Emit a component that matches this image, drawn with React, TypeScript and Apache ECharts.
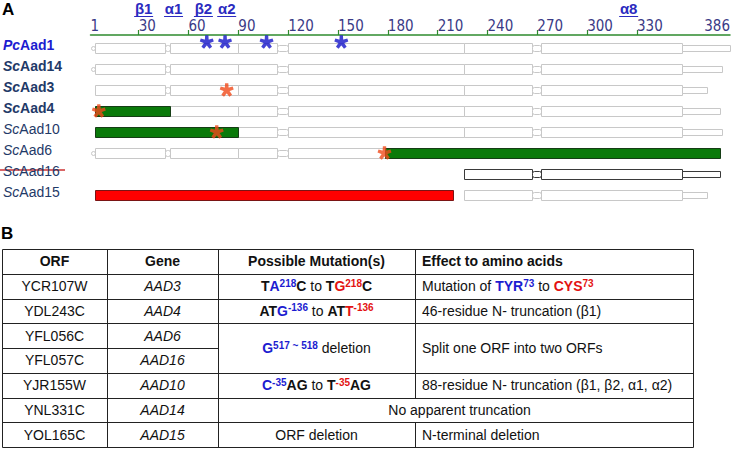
import React, { useEffect, useRef } from 'react';
import * as echarts from 'echarts';

// ---------- Panel A data ----------
const rows = ['PcAad1', 'ScAad14', 'ScAad3', 'ScAad4', 'ScAad10', 'ScAad6', 'ScAad16', 'ScAad15'];
const tickLabels = [1, 30, 60, 90, 120, 150, 180, 210, 240, 270, 300, 330, 386];
const tickMarks = [30, 60, 90, 120, 150, 180, 210, 240, 270, 300, 330];
const ssLabels = ['β1', 'α1', 'β2', 'α2', 'α8'];
const ssPositions = [33, 51, 69, 83, 325];

// shared domain architecture [start, end, part]
const domainLayout: [number, number, string][] = [
  [1, 4, 'linker'], [4, 46, 'domain'], [46, 49, 'linker'], [49, 90, 'domain'], [90, 113, 'domain'],
  [113, 120, 'linker'], [120, 226, 'domain'], [226, 267, 'domain'], [267, 272, 'linker'], [272, 357, 'domain'],
];
const tailStart = 357;
const grayStart = [1, 1, 4, 49, 90, 1, 226, 226];
const grayEnd = [386, 381, 372, 380, 381, 178, 380, 372];

const truncRows = ['ScAad4', 'ScAad10', 'ScAad6'];
const truncFrom = [4, 4, 178];
const truncTo = [49, 90, 380];
const deletedRows = ['ScAad15'];
const deletedFrom = [4];
const deletedTo = [219];

const pcStarPos = [71, 82, 107, 152];
const scStarRows = ['ScAad3', 'ScAad4', 'ScAad10', 'ScAad6'];
const scStarPos = [83, 6, 77, 178];

// ---------- Panel B data ----------
const headers = ['ORF', 'Gene', 'Possible Mutation(s)', 'Effect to amino acids'];
const orfs = ['YCR107W', 'YDL243C', 'YFL056C', 'YFL057C', 'YJR155W', 'YNL331C', 'YOL165C'];
const genes = ['AAD3', 'AAD4', 'AAD6', 'AAD16', 'AAD10', 'AAD14', 'AAD15'];
const mutations = [
  '{k|T}{o|A}{os|218}{k|C} to {k|T}{n|G}{ns|218}{k|C}',
  '{k|AT}{o|G}{os|-136} to {k|AT}{n|T}{ns|-136}',
  '{o|G}{os|517 ~ 518} deletion',
  '',
  '{o|C}{os|-35}{k|AG} to {k|T}{ns|-35}{k|AG}',
  '',
  'ORF deletion',
];
const effects = [
  'Mutation of {o|TYR}{os|73} to {n|CYS}{ns|73}',
  '46-residue N- truncation (β1)',
  'Split one ORF into two ORFs',
  '',
  '88-residue N- truncation (β1, β2, α1, α2)',
  'No apparent truncation',
  'N-terminal deletion',
];

const FONT = "'Liberation Sans', Arial, sans-serif";
const BLUE = '#1c1cd0';
const RED = '#e31212';
const NAVY = '#1f3a68';

function asteriskPath(arms: number) {
  const w = 0.3;
  let d = '';
  for (let i = 0; i < arms; i++) {
    const a = -Math.PI / 2 + (i * 2 * Math.PI) / arms;
    const dx = Math.cos(a), dy = Math.sin(a), nx = -dy, ny = dx;
    const pts = [
      [w * nx - 0.1 * dx, w * ny - 0.1 * dy],
      [w * 0.8 * nx + dx, w * 0.8 * ny + dy],
      [-w * 0.8 * nx + dx, -w * 0.8 * ny + dy],
      [-w * nx - 0.1 * dx, -w * ny - 0.1 * dy],
    ];
    d += 'M' + pts.map((p) => ((p[0] + 1.2) * 10).toFixed(2) + ' ' + ((p[1] + 1.2) * 10).toFixed(2)).join('L') + 'Z';
  }
  return 'path://' + d;
}

export default function App() {
  const ref = useRef<HTMLDivElement>(null);
  useEffect(() => {
    const chart = echarts.init(ref.current!, null, { renderer: 'svg' });

    // build bar segments
    const segData: number[][] = [];
    rows.forEach((_, r) => {
      const gs = grayStart[r], ge = grayEnd[r];
      domainLayout.forEach(([s, e, part]) => {
        const a = Math.max(s, gs), b = Math.min(e, ge);
        if (b > a && s >= gs) segData.push([a, b, r, part === 'linker' ? 0 : 1]);
      });
      if (ge > tailStart) segData.push([tailStart, ge, r, 2]);
    });
    truncRows.forEach((n, i) => segData.push([truncFrom[i], truncTo[i], rows.indexOf(n), 3]));
    deletedRows.forEach((n, i) => segData.push([deletedFrom[i], deletedTo[i], rows.indexOf(n), 4]));

    // table
    const colX = [2, 107, 218, 415, 693];
    const tTop = 249, rowH = 24.75;
    const rowY = (i: number) => tTop + i * rowH;
    const snap = (v: number) => Math.round(v) + 0.5;
    const lineStyle = { stroke: '#222', lineWidth: 1 };
    const graphics: any[] = [];
    const nData = orfs.length;
    const mergedDownBoundary = new Set<number>();
    const acrossGap: number[] = [];
    for (let j = 0; j < nData; j++) {
      if (mutations[j] === '' && effects[j] === '') mergedDownBoundary.add(j + 1);
      if (mutations[j] === '' && effects[j] !== '') acrossGap.push(j);
    }
    for (let b = 0; b <= nData + 1; b++) {
      const y = snap(rowY(b));
      const x2 = mergedDownBoundary.has(b) ? colX[2] : colX[4];
      graphics.push({ type: 'line', shape: { x1: snap(colX[0]), y1: y, x2: snap(x2), y2: y }, style: lineStyle });
    }
    colX.forEach((cx, c) => {
      const x = snap(cx);
      if (c === 3 && acrossGap.length) {
        let start = rowY(0);
        acrossGap.forEach((j) => {
          graphics.push({ type: 'line', shape: { x1: x, y1: snap(start), x2: x, y2: snap(rowY(j + 1)) }, style: lineStyle });
          start = rowY(j + 2);
        });
        graphics.push({ type: 'line', shape: { x1: x, y1: snap(start), x2: x, y2: snap(rowY(nData + 1)) }, style: lineStyle });
      } else {
        graphics.push({ type: 'line', shape: { x1: x, y1: snap(rowY(0)), x2: x, y2: snap(rowY(nData + 1)) }, style: lineStyle });
      }
    });
    const richT = {
      k: { fontWeight: 'bold', fill: '#111', fontSize: 14, lineHeight: 16, fontFamily: FONT },
      o: { fontWeight: 'bold', fill: BLUE, fontSize: 14, lineHeight: 16, fontFamily: FONT },
      n: { fontWeight: 'bold', fill: RED, fontSize: 14, lineHeight: 16, fontFamily: FONT },
      os: { fontWeight: 'bold', fill: BLUE, fontSize: 10, lineHeight: 11, verticalAlign: 'top', fontFamily: FONT },
      ns: { fontWeight: 'bold', fill: RED, fontSize: 10, lineHeight: 11, verticalAlign: 'top', fontFamily: FONT },
    };
    const txt = (text: string, x: number, y: number, align: string, extra: any = {}) => ({
      type: 'text', x, y, silent: true,
      style: {
        text, fontFamily: FONT, fontSize: 14, fill: '#111', lineHeight: 16,
        align, verticalAlign: 'middle', rich: richT, ...extra,
      },
    });
    const hy = rowY(0) + rowH / 2;
    graphics.push(txt(headers[0], (colX[0] + colX[1]) / 2, hy, 'center', { fontWeight: 'bold' }));
    graphics.push(txt(headers[1], (colX[1] + colX[2]) / 2, hy, 'center', { fontWeight: 'bold' }));
    graphics.push(txt(headers[2], (colX[2] + colX[3]) / 2, hy, 'center', { fontWeight: 'bold' }));
    graphics.push(txt(headers[3], colX[3] + 7, hy, 'left', { fontWeight: 'bold' }));
    for (let j = 0; j < nData; j++) {
      const cy = rowY(j + 1) + rowH / 2;
      graphics.push(txt(orfs[j], (colX[0] + colX[1]) / 2, cy, 'center'));
      graphics.push(txt(genes[j], (colX[1] + colX[2]) / 2, cy, 'center', { fontStyle: 'italic' }));
      if (mutations[j] === '' && effects[j] === '') continue;
      const span = j + 1 < nData && mutations[j + 1] === '' && effects[j + 1] === '' ? 2 : 1;
      const cy2 = rowY(j + 1) + (span * rowH) / 2;
      if (mutations[j] === '') {
        graphics.push(txt(effects[j], (colX[2] + colX[4]) / 2 + 4, cy2, 'center'));
      } else {
        graphics.push(txt(mutations[j], (colX[2] + colX[3]) / 2, cy2, 'center'));
        graphics.push(txt(effects[j], colX[3] + 7, cy2, 'left'));
      }
    }
    // panel letters + strikethrough
    graphics.push({ type: 'text', x: 2, y: 1, style: { text: 'A', fontFamily: FONT, fontSize: 17, fontWeight: 'bold', fill: '#000', verticalAlign: 'top' } });
    graphics.push({ type: 'text', x: 1, y: 225, style: { text: 'B', fontFamily: FONT, fontSize: 17, fontWeight: 'bold', fill: '#000', verticalAlign: 'top' } });
    graphics.push({ type: 'line', shape: { x1: 0, y1: 170, x2: 65, y2: 170 }, style: { stroke: '#cc3333', lineWidth: 1.5 } });

    const rs = (style: any) => ({ fontFamily: FONT, fontSize: 14, ...style });
    const option: any = {
      animation: false,
      textStyle: { fontFamily: FONT },
      grid: { left: 88.7, right: 2.5, top: 37.5, height: 168, containLabel: false },
      xAxis: {
        type: 'value', position: 'top', min: 1, max: 386, offset: 2.5,
        axisLine: { show: true, lineStyle: { color: '#2e8b2e', width: 1.5 } },
        axisTick: { show: true, inside: false, length: 5, customValues: tickMarks, lineStyle: { color: '#2e8b2e', width: 1.2 } },
        axisLabel: {
          customValues: tickLabels, align: 'left', alignMaxLabel: 'right', margin: 2,
          fontFamily: "'Liberation Sans Narrow', 'DejaVu Sans Condensed', sans-serif", fontSize: 15, color: '#3a3a86',
        },
        splitLine: { show: false },
      },
      yAxis: {
        type: 'category', data: rows, inverse: true,
        axisLine: { show: false }, axisTick: { show: false }, splitLine: { show: false },
        axisLabel: {
          align: 'left', margin: 87.5, padding: [0, 0, 6, 0],
          formatter: (v: string, i: number) => {
            const key = i === 0 ? 'p' : i < 4 ? 's' : 'n';
            return `{${key}i|${v.slice(0, 2)}}{${key}|${v.slice(2)}}`;
          },
          rich: {
            pi: rs({ fontWeight: 'bold', fontStyle: 'italic', color: BLUE }),
            p: rs({ fontWeight: 'bold', color: BLUE }),
            si: rs({ fontWeight: 'bold', fontStyle: 'italic', color: NAVY }),
            s: rs({ fontWeight: 'bold', color: NAVY }),
            ni: rs({ fontStyle: 'italic', color: NAVY }),
            n: rs({ color: NAVY }),
          },
        },
      },
      series: [
        {
          type: 'custom', coordinateSystem: 'cartesian2d', data: segData, encode: { x: [0, 1], y: 2 },
          renderItem: (params: any, api: any) => {
            const r = api.value(2), kind = api.value(3);
            const s = api.value(0);
            const p0 = api.coord([s, r]);
            const p1 = api.coord([api.value(1), r]);
            const cy = p0[1];
            let h = 10, fill = '#fff', stroke = r === 6 ? '#3a3a3a' : '#c8c8c8', radius = 0;
            if (kind === 0) { h = s === 1 ? 4 : 6; radius = 2; }
            if (kind === 2) { h = 6; }
            if (kind === 3) { fill = '#0a7a0a'; stroke = '#153d15'; }
            if (kind === 4) { fill = '#ff0000'; stroke = '#7a1414'; }
            const x0 = Math.round(p0[0]) + 0.5, x1 = Math.round(p1[0]) + 0.5;
            const y0 = Math.round(cy - h / 2) + 0.5;
            return {
              type: 'rect', shape: { x: x0, y: y0, width: x1 - x0, height: h, r: radius },
              style: { fill, stroke, lineWidth: 1 },
            };
          },
          z: 2,
        },
        {
          type: 'custom', coordinateSystem: 'cartesian2d', clip: false,
          data: ssPositions.map((p) => [p, 0]), encode: { x: 0, y: 1 },
          renderItem: (params: any, api: any) => {
            const p = api.coord([api.value(0), 0]);
            const x = p[0], y = p[1] - 40;
            return {
              type: 'group',
              children: [
                { type: 'text', x, y, style: { text: ssLabels[params.dataIndex], fontFamily: FONT, fontSize: 15, fontWeight: 'bold', fill: '#2b2bc0', align: 'center', verticalAlign: 'middle' } },
                { type: 'line', shape: { x1: x - 9.5, y1: y + 8.5, x2: x + 9.5, y2: y + 8.5 }, style: { stroke: '#2b2bc0', lineWidth: 1 } },
              ],
            };
          },
        },
        {
          type: 'scatter', data: pcStarPos.map((p) => [p, rows[0]]),
          symbol: asteriskPath(5), symbolSize: 14, symbolKeepAspect: true, symbolOffset: [0, -6],
          itemStyle: { color: '#1414c8' }, z: 5, silent: true,
        },
        {
          type: 'scatter', data: scStarPos.map((p, i) => [p, scStarRows[i]]),
          symbol: asteriskPath(5), symbolSize: 14, symbolKeepAspect: true,
          itemStyle: { color: '#f04a1a' }, z: 5, silent: true,
        },
      ],
      graphic: graphics,
    };
    chart.setOption(option);
    return () => chart.dispose();
  }, []);
  return <div ref={ref} style={{ position: 'fixed', left: 0, top: 0, width: 733, height: 455, background: '#fff' }} />;
}
